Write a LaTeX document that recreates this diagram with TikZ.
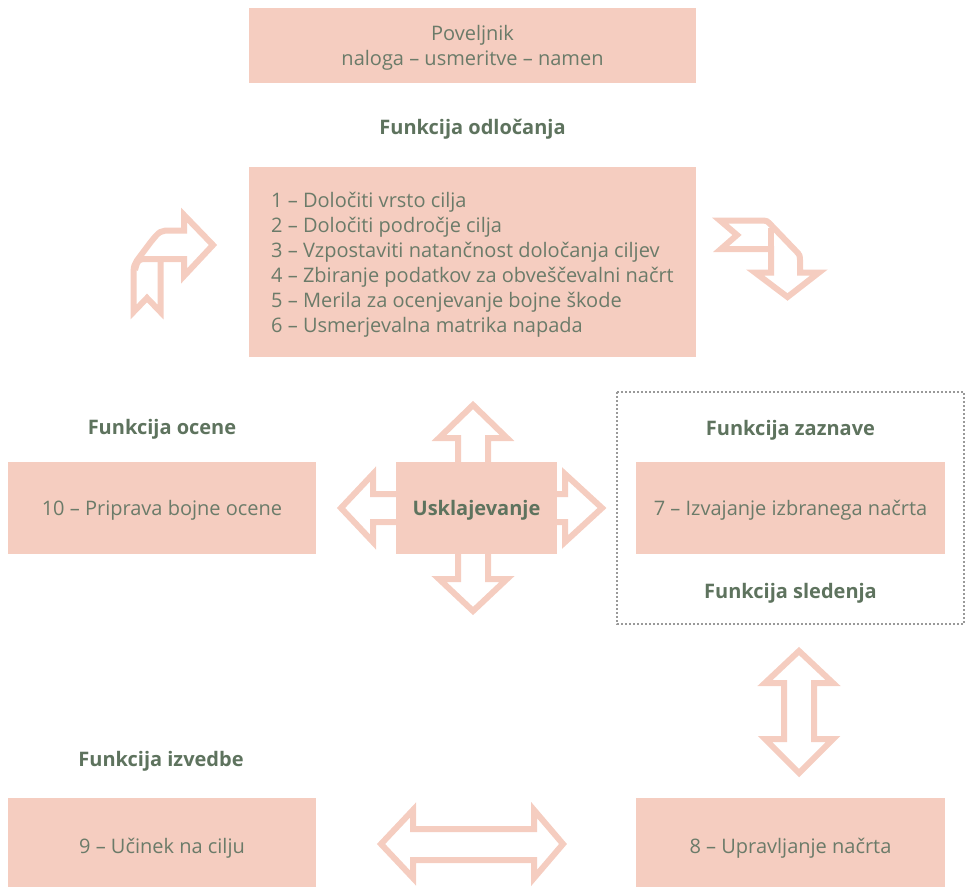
\documentclass[tikz,border=0pt]{standalone}
\usepackage{fontspec}
\setmainfont{Open Sans}
\usepackage{tikz}
\usetikzlibrary{calc}
\definecolor{roza}{HTML}{F5CDC0}
\definecolor{besedilo}{HTML}{6B7B69}
\definecolor{zelena}{HTML}{5E735E}
\tikzstyle{polje}=[fill=roza,text=besedilo,inner sep=0pt,text depth=-2.5pt,font=\fontsize{20}{25}\selectfont]
\tikzstyle{naslov}=[text=zelena,text depth=-2.5pt,font=\fontsize{20}{25}\selectfont\bfseries]
\tikzstyle{puscica}=[draw=roza,fill=white,line width=6pt,line join=miter]

\begin{document}
\begin{tikzpicture}[x=1pt,y=-1pt]
	\useasboundingbox (0,0) rectangle (966,886);

	% okvir zaznave in sledenja
	\draw[gray!80,line width=2pt,dotted] (617,392) rectangle (964,624);

	% puscice okoli usklajevanja
	\draw[puscica] (458,470)--(458,438)--(439,438)--(473,405)--(507,438)--(488,438)--(488,470)--cycle;
	\draw[puscica] (458,546)--(458,579)--(439,579)--(473,611)--(507,579)--(488,579)--(488,546)--cycle;
	\draw[puscica] (404,494)--(373,494)--(373,474)--(341,508)--(373,542)--(373,522)--(404,522)--cycle;
	\draw[puscica] (549,494)--(565,494)--(565,474)--(602,508)--(565,542)--(565,522)--(549,522)--cycle;

	% dvojni puscici
	\draw[puscica] (799,651)--(833,683)--(814,683)--(814,739)--(833,739)--(799,773)--(765,739)--(784,739)--(784,683)--(765,683)--cycle;
	\draw[puscica] (381,844)--(413,810)--(413,829)--(534,829)--(534,810)--(563,844)--(534,878)--(534,860)--(413,860)--(413,878)--cycle;

	% ukrivljeni puscici
	\draw[puscica] (213,245)--(184,215)--(184,230.5)--(172,230.5) .. controls (160,230.5) .. (150,243)--(141,255) .. controls (133.5,265) .. (133.5,278)--(133.5,312)--(147,298)--(160.5,312)--(160.5,259)--(184,259)--(184,276)--cycle;
	\draw[puscica] (160.5,259)--(148,259) .. controls (138,259) .. (135,270);
	\draw[puscica] (720,220.5)--(760,220.5) .. controls (767,220.5) .. (772,226)--(795,250) .. controls (800,255) .. (800,262)--(800,272.5)--(819,272.5)--(787.5,297)--(755,272.5)--(771,272.5)--(771,249)--(721,249)--(737,235)--cycle;
	\draw[puscica] (771,249)--(771,228);

	% polja
	\node[polje,minimum width=447pt,minimum height=75pt,align=center,text depth=-8.5pt] (povelj) at (472.5,45.5) {Poveljnik\\naloga -- usmeritve -- namen};
	\node[naslov] (odl) at (472.5,127) {Funkcija odločanja};
	\node[polje,minimum width=447pt,minimum height=190pt,align=left] (koraki) at (472.5,262) {1 -- Določiti vrsto cilja\\2 -- Določiti področje cilja\\3 -- Vzpostaviti natančnost določanja ciljev\\4 -- Zbiranje podatkov za obveščevalni načrt\\5 -- Merila za ocenjevanje bojne škode\\6 -- Usmerjevalna matrika napada};

	\node[naslov] (ocena) at (162,427) {Funkcija ocene};
	\node[polje,minimum width=308pt,minimum height=92pt] (p10) at (162,508) {10 -- Priprava bojne ocene};
	\node[polje,minimum width=161pt,minimum height=92pt,text=zelena,font=\fontsize{20}{25}\selectfont\bfseries] (uskl) at (476.5,508) {Usklajevanje};

	\node[naslov] (zazn) at (790.5,428) {Funkcija zaznave};
	\node[polje,minimum width=309pt,minimum height=92pt] (p7) at (790.5,508) {7 -- Izvajanje izbranega načrta};
	\node[naslov] (sled) at (790.5,591) {Funkcija sledenja};

	\node[naslov] (izv) at (161,759) {Funkcija izvedbe};
	\node[polje,minimum width=308pt,minimum height=96pt] (p9) at (162,846) {9 -- Učinek na cilju};
	\node[polje,minimum width=309pt,minimum height=96pt] (p8) at (790.5,846) {8 -- Upravljanje načrta};
\end{tikzpicture}
\end{document}
